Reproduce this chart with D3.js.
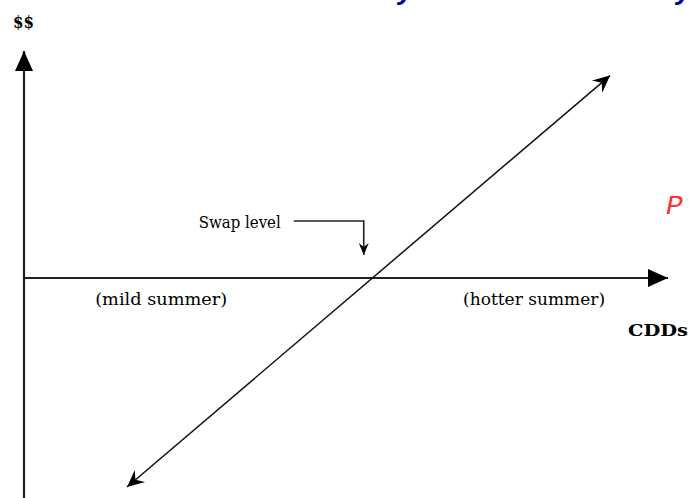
<!DOCTYPE html>
<html>
<head>
<meta charset="utf-8">
<script src="https://cdn.jsdelivr.net/npm/d3@7"></script>
<style>
  html, body { margin: 0; padding: 0; background: #fff; }
  svg { display: block; }
</style>
</head>
<body>
<script>
// ---- data ----
const cddDomain = [0, 100];          // CDDs (x axis)
const payoffDomain = [-100, 100];    // $$ (y axis)
const swapLevel = 54;                // strike in CDDs
const payoffCdd = [16, 91];          // payoff line end points (CDDs)
const payoffValue = [-95, 92];       // payoff line end points ($$)
const axisLabels = { x: "CDDs", y: "$$" };
const regionLabels = ["(mild summer)", "(hotter summer)"];
const regionCdd = [21.3, 79.2];
const swapLabel = "Swap level";

const W = 690, H = 498;
const svg = d3.select("body").append("svg").attr("width", W).attr("height", H);

const x = d3.scaleLinear().domain(cddDomain).range([24, 668]);
const y = d3.scaleLinear().domain(payoffDomain).range([498, 58]);

const serif = "DejaVu Serif, Liberation Serif, serif";

const defs = svg.append("defs");
defs.append("marker").attr("id", "tri").attr("viewBox", "-20 -10 20 20")
  .attr("refX", 0).attr("refY", 0).attr("markerWidth", 20).attr("markerHeight", 20)
  .attr("markerUnits", "userSpaceOnUse").attr("orient", "auto")
  .append("path").attr("d", "M0,0 L-20,-9 L-20,9 Z").attr("fill", "#000");
defs.append("marker").attr("id", "barb").attr("viewBox", "-18 -9 18 18")
  .attr("refX", 0).attr("refY", 0).attr("markerWidth", 18).attr("markerHeight", 18)
  .attr("markerUnits", "userSpaceOnUse").attr("orient", "auto-start-reverse")
  .append("path").attr("d", "M0,0 L-17,-8 L-11,0 L-17,8 Z").attr("fill", "#000");
defs.append("marker").attr("id", "small").attr("viewBox", "-12 -6 12 12")
  .attr("refX", 0).attr("refY", 0).attr("markerWidth", 12).attr("markerHeight", 12)
  .attr("markerUnits", "userSpaceOnUse").attr("orient", "auto")
  .append("path").attr("d", "M0,0 L-12,-5 L-8,0 L-12,5 Z").attr("fill", "#000");

// blue title (cut off at top; only descenders visible)
svg.append("text").attr("x", 398).attr("y", -1)
  .attr("font-family", "Liberation Sans, Arial, sans-serif").attr("font-weight", "bold")
  .attr("font-style", "italic").attr("font-size", 28).attr("fill", "#000099").text("y");
svg.append("text").attr("x", 676).attr("y", -1)
  .attr("font-family", "Liberation Sans, Arial, sans-serif").attr("font-weight", "bold")
  .attr("font-style", "italic").attr("font-size", 28).attr("fill", "#000099").text("y");

// axes
svg.append("line").attr("x1", x(cddDomain[0])).attr("y1", H)
  .attr("x2", x(cddDomain[0])).attr("y2", 51)
  .attr("stroke", "#222").attr("stroke-width", 2.2).attr("marker-end", "url(#tri)");
svg.append("line").attr("x1", x(cddDomain[0])).attr("y1", y(0))
  .attr("x2", x(cddDomain[1])).attr("y2", y(0))
  .attr("stroke", "#222").attr("stroke-width", 2.2).attr("marker-end", "url(#tri)");

// payoff line
const pts = payoffCdd.map((c, i) => [x(c), y(payoffValue[i])]);
svg.append("path").attr("d", d3.line()(pts))
  .attr("fill", "none").attr("stroke", "#111").attr("stroke-width", 1.5)
  .attr("marker-start", "url(#barb)").attr("marker-end", "url(#barb)");

// swap level annotation
const sx = x(swapLevel) - 8;
svg.append("path")
  .attr("d", d3.line()([[sx - 70, y(0) - 57], [sx, y(0) - 57], [sx, y(0) - 23]]))
  .attr("fill", "none").attr("stroke", "#222").attr("stroke-width", 1.6)
  .attr("marker-end", "url(#small)");
svg.append("text").attr("x", sx - 165).attr("y", y(0) - 50)
  .attr("font-family", serif).attr("font-size", 16)
  .attr("textLength", 82).attr("lengthAdjust", "spacingAndGlyphs")
  .attr("fill", "#000").text(swapLabel);

// region labels
const regionWidths = [132, 142];
regionLabels.forEach((t, i) => {
  svg.append("text").attr("x", x(regionCdd[i]) - regionWidths[i] / 2).attr("y", y(0) + 27)
    .attr("font-family", serif).attr("font-size", 16)
    .attr("textLength", regionWidths[i]).attr("lengthAdjust", "spacingAndGlyphs")
    .attr("fill", "#000").text(t);
});

// axis labels
svg.append("text").attr("x", 628).attr("y", y(0) + 58)
  .attr("font-family", serif).attr("font-size", 17)
  .attr("font-weight", "bold").attr("textLength", 60).attr("lengthAdjust", "spacingAndGlyphs")
  .attr("fill", "#000").text(axisLabels.x);
svg.append("text").attr("x", 13).attr("y", 28)
  .attr("font-family", serif).attr("font-size", 16)
  .attr("font-weight", "bold").attr("textLength", 21).attr("lengthAdjust", "spacingAndGlyphs")
  .attr("fill", "#000").text(axisLabels.y);

// red P
svg.append("text").attr("x", 666).attr("y", 214)
  .attr("font-family", "Liberation Mono, Courier New, monospace").attr("font-size", 28)
  .attr("font-style", "italic").attr("fill", "#ff3030").text("P");
</script>
</body>
</html>
